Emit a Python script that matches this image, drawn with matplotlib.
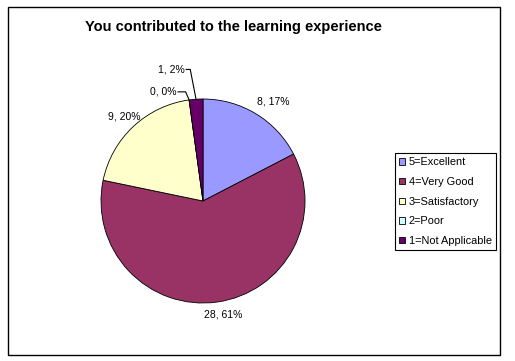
import numpy as np
import matplotlib
matplotlib.use('Agg')
import matplotlib.pyplot as plt
from matplotlib.patches import Rectangle

plt.rcParams['font.family'] = ['Liberation Sans', 'DejaVu Sans']

title = 'You contributed to the learning experience'
categories = ['5=Excellent', '4=Very Good', '3=Satisfactory', '2=Poor', '1=Not Applicable']
counts = [8, 28, 9, 0, 1]
colors = ['#9999FF', '#993366', '#FFFFCC', '#CCFFFF', '#660066']


def main():
    fig = plt.figure(figsize=(5.15, 3.61), dpi=100)
    W, H = 515, 361

    # outer chart border
    fig.patches.append(Rectangle((8 / W, 1 - 355 / H), 492 / W, 348 / H,
                                 transform=fig.transFigure, fill=False,
                                 edgecolor='black', linewidth=1.0))

    fig.text(233 / W, 1 - 27 / H, title, ha='center', va='center',
             fontsize=10.5, fontweight='bold')

    ax = fig.add_axes([101 / W, 1 - 303 / H, 204 / W, 204 / H])
    wedges, _ = ax.pie(counts, colors=colors, startangle=90, counterclock=False,
                       wedgeprops=dict(edgecolor='black', linewidth=0.6))
    ax.set_xlim(-1, 1)
    ax.set_ylim(-1, 1)

    total = sum(counts)
    labels = [f'{c}, {round(100 * c / total)}%' for c in counts]

    # label spots for the larger slices (radius units from the centre)
    spots = [(0.69, 0.98), (0.2, -1.11), (-0.77, 0.83)]
    for i, (tx, ty) in enumerate(spots):
        ax.text(tx, ty, labels[i], ha='center', va='center', fontsize=7.5)

    # small slices with leader lines
    leaders = {3: (-0.245, 1.07, -0.17), 4: (-0.165, 1.29, -0.125)}
    for i, (tx, ty, ex) in leaders.items():
        w = wedges[i]
        ang = np.deg2rad((w.theta1 + w.theta2) / 2)
        px, py = np.cos(ang), np.sin(ang)
        ax.text(tx - 0.01, ty, labels[i], ha='right', va='center', fontsize=7.5)
        ax.plot([tx, ex, px], [ty, ty, py], color='black', linewidth=0.8,
                clip_on=False)

    leg = fig.legend(wedges, categories, loc='upper left',
                     bbox_to_anchor=(395 / W, 1 - 153 / H), fontsize=7.9,
                     frameon=True, fancybox=False, edgecolor='black',
                     framealpha=1, handlelength=0.55, handleheight=0.55,
                     handletextpad=0.3, labelspacing=0.88, borderpad=0.4,
                     borderaxespad=0)
    leg.get_frame().set_linewidth(0.8)

    fig.savefig('out.png', dpi=100)


if __name__ == '__main__':
    main()
